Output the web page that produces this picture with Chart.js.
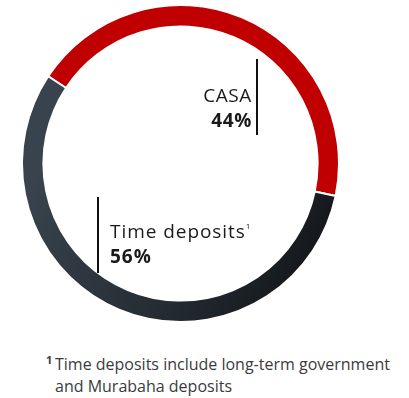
<!DOCTYPE html>
<html lang="en">
<head>
    <meta charset="UTF-8">
    <title>Deposit mix</title>
    <style>
        html, body { margin: 0; padding: 0; background: #fff; }
        body { width: 409px; height: 398px; position: relative; overflow: hidden; font-family: 'Open Sans', sans-serif; }
        .chart-box { position: absolute; left: 21px; top: 4px; width: 319px; height: 319px; }
        .lbl { position: absolute; font-size: 19px; line-height: 25px; color: #1a1a1a; letter-spacing: 0.6px; white-space: nowrap; }
        .lbl b { font-weight: 700; }
        .lbl sup { font-size: 8px; vertical-align: 9px; letter-spacing: 0; }
        .rule { position: absolute; width: 1.5px; background: #111; }
        .note { position: absolute; left: 55px; top: 353px; font-size: 16px; line-height: 22px; color: #3b3b3b; white-space: nowrap; }
        .note .mark { position: absolute; left: -9px; top: -4px; font-size: 11px; font-weight: 700; }
    </style>
</head>
<body>
    <div class="chart-box"><canvas id="depositChart"></canvas></div>

    <!-- labels next to the ring -->
    <div class="rule" style="left:256px; top:59px; height:76px;"></div>
    <div class="lbl" id="casaLbl" style="right:157px; top:83px; text-align:right;"></div>

    <div class="rule" style="left:97px; top:197px; height:76px;"></div>
    <div class="lbl" id="timeLbl" style="left:110px; top:213px; letter-spacing:0.95px;"></div>

    <div class="note"><span class="mark">1</span>Time deposits include long-term government<br>and Murabaha deposits</div>

    <script src="https://cdn.jsdelivr.net/npm/chart.js"></script>
    <script>
        const categories = ['CASA', 'Time deposits'];
        const shares = [44, 56];

        document.getElementById('casaLbl').innerHTML =
            categories[0] + '<br><b>' + shares[0] + '%</b>';
        document.getElementById('timeLbl').innerHTML =
            categories[1] + '<sup>1</sup><br><b>' + shares[1] + '%</b>';

        // time deposits slice fades from slate grey to near black
        function sliceColor(ctx) {
            if (ctx.dataIndex === 0) return '#c00000';
            const area = ctx.chart.chartArea;
            if (!area) return '#2a3036';
            const g = ctx.chart.ctx.createLinearGradient(area.left + 30, area.top + 140, area.right, area.bottom - 40);
            g.addColorStop(0, '#38434d');
            g.addColorStop(0.5, '#262d34');
            g.addColorStop(1, '#101316');
            return g;
        }

        new Chart(document.getElementById('depositChart'), {
            type: 'doughnut',
            data: {
                labels: categories,
                datasets: [{
                    data: shares,
                    backgroundColor: sliceColor,
                    borderColor: '#ffffff',
                    borderWidth: 2,
                    hoverOffset: 0
                }]
            },
            options: {
                responsive: true,
                maintainAspectRatio: false,
                animation: false,
                cutout: '86.5%',
                rotation: -56.6,
                plugins: {
                    legend: { display: false },
                    tooltip: { enabled: false }
                }
            }
        });
    </script>
</body>
</html>
